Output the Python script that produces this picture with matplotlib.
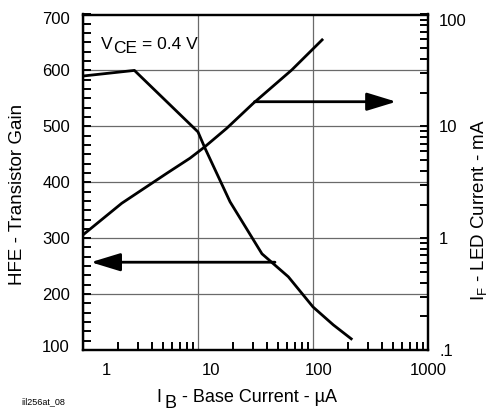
import matplotlib
matplotlib.use('Agg')
import matplotlib.pyplot as plt
from matplotlib.ticker import FixedLocator, FixedFormatter, LogLocator, NullFormatter, MultipleLocator
from matplotlib.transforms import ScaledTranslation

plt.rcParams['font.family'] = ['Liberation Sans', 'DejaVu Sans']
plt.rcParams['mathtext.fontset'] = 'custom'
plt.rcParams['mathtext.rm'] = 'Liberation Sans'

# HFE vs base current (left axis)
ib_hfe = [1, 2.8, 10, 11.5, 19, 36, 61, 100, 150, 215]
hfe = [590, 600, 490, 461, 365, 272, 231, 177, 145, 120]

# LED current vs base current (right axis)
ib_led = [1, 2.17, 5.35, 8.52, 11.5, 17.8, 30.3, 65.3, 120]
i_led = [1.07, 2.05, 3.8, 5.19, 6.58, 9.62, 16.1, 31.9, 59.3]

x_ticks = [1, 10, 100, 1000]
x_labels = ['1', '10', '100', '1000']
hfe_ticks = [100, 200, 300, 400, 500, 600, 700]
led_ticks = [0.1, 1, 10, 100]
led_labels = ['.1', '1', '10', '100']

# arrows: which curve belongs to which axis
arrow_right = dict(y=16.6, x0=31, x1=530)   # on the LED axis
arrow_left = dict(y=257, x0=46.7, x1=1.17)  # on the HFE axis


def shift(dx, dy=0):
    # pixel offset -> translation
    return ScaledTranslation(dx / 100, dy / 100, fig.dpi_scale_trans)


fig = plt.figure(figsize=(4.9, 4.11), dpi=100)
ax = fig.add_axes([83 / 490, 1 - 350 / 411, 345 / 490, 335.5 / 411])
ax.set_xscale('log')
ax.set_xlim(1, 1000)
ax.set_ylim(100, 700)
ax.plot(ib_hfe, hfe, color='black', lw=2)

ax.xaxis.set_major_locator(FixedLocator(x_ticks))
ax.xaxis.set_major_formatter(FixedFormatter(x_labels))
ax.xaxis.set_minor_locator(LogLocator(base=10, subs=range(2, 10)))
ax.xaxis.set_minor_formatter(NullFormatter())
ax.yaxis.set_major_locator(FixedLocator(hfe_ticks))
ax.yaxis.set_minor_locator(MultipleLocator(100 / 6))
ax.grid(True, which='major', color='#6a6a6a', lw=0.9)
ax.tick_params(which='both', direction='in', length=5.5, width=1.4,
               top=False, right=False, labelsize=12, pad=9.4)
ax.tick_params(which='major', axis='x', length=0)

ax2 = ax.twinx()
ax2.set_yscale('log')
ax2.set_ylim(0.1, 100)
ax2.plot(ib_led, i_led, color='black', lw=2)
ax2.yaxis.set_major_locator(FixedLocator(led_ticks))
ax2.yaxis.set_major_formatter(FixedFormatter(led_labels))
ax2.yaxis.set_minor_locator(LogLocator(base=10, subs=range(2, 10)))
ax2.yaxis.set_minor_formatter(NullFormatter())
ax2.tick_params(which='both', direction='in', length=5.5, width=1.4,
                labelsize=12, pad=8)

for a in (ax, ax2):
    for s in a.spines.values():
        s.set_linewidth(1.6)

ax2.annotate('', xy=(arrow_right['x1'], arrow_right['y']),
             xytext=(arrow_right['x0'], arrow_right['y']),
             arrowprops=dict(arrowstyle='-|>,head_length=1.8,head_width=0.55',
                             color='black', lw=2, shrinkA=0, shrinkB=0))
ax.annotate('', xy=(arrow_left['x1'], arrow_left['y']),
            xytext=(arrow_left['x0'], arrow_left['y']),
            arrowprops=dict(arrowstyle='-|>,head_length=1.8,head_width=0.55',
                            color='black', lw=2, shrinkA=0, shrinkB=0))

# tick label nudges as in the datasheet
for lbl, dx in zip(ax.get_xticklabels(), [23, 13, 6, 0]):
    lbl.set_transform(lbl.get_transform() + shift(dx))
ylbls = ax.get_yticklabels()
ylbls[0].set_transform(ylbls[0].get_transform() + shift(0, 4))
ylbls[-1].set_transform(ylbls[-1].get_transform() + shift(0, -4))
rl = ax2.get_yticklabels()
rl[-1].set_transform(rl[-1].get_transform() + shift(0, -5.5))

# V_CE note
ax.text(0.052, 0.897, 'V', transform=ax.transAxes, fontsize=12.5, va='baseline')
ax.text(0.052, 0.897, 'CE', transform=ax.transAxes + shift(11.8, -4.3),
        fontsize=12.5, va='baseline')
ax.text(0.052, 0.897, '= 0.4 V', transform=ax.transAxes + shift(41, 0),
        fontsize=12.5, va='baseline')

# axis titles
fig.text(156.5 / 490, 9 / 411, 'I', fontsize=13, va='baseline')
fig.text(165 / 490, 3.5 / 411, 'B', fontsize=13, va='baseline')
fig.text(182 / 490, 9 / 411, '- Base Current - \u00b5A', fontsize=13, va='baseline')
fig.text(17 / 490, 1 - 194 / 411, 'HFE - Transistor Gain', fontsize=13.5,
         rotation=90, ha='center', va='center')
fig.text(480 / 490, 1 - 210 / 411, r'I$_{\mathrm{F}}$ - LED Current - mA', fontsize=13.5,
         rotation=90, ha='center', va='center')
fig.text(21 / 490, 7 / 411, 'iil256at_08', fontsize=6.5, va='baseline')

fig.savefig('out.png', dpi=100)
